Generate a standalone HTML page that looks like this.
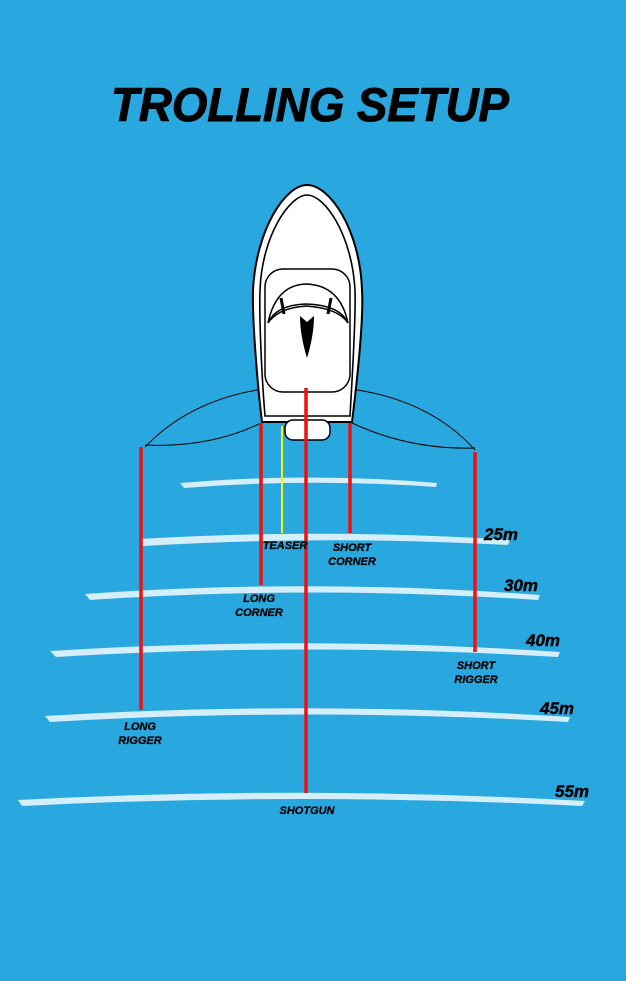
<!DOCTYPE html>
<html><head><meta charset="utf-8"><style>
html,body{margin:0;padding:0;background:#29a8e0;}
svg{display:block}
text{font-family:"Liberation Sans",sans-serif;font-weight:bold;font-style:italic;fill:#000}
</style></head><body>
<svg width="626" height="981" viewBox="0 0 626 981" xmlns="http://www.w3.org/2000/svg">
<rect width="626" height="981" fill="#29a8e0"/>
<text x="310" y="121" text-anchor="middle" font-size="47" textLength="398" lengthAdjust="spacingAndGlyphs" stroke="#000" stroke-width="1">TROLLING SETUP</text>
<g fill="#d4eefb">
<path d="M180,483 Q308,472 437,483 L436,487 Q308,478 184,488 Z"/>
<path d="M140,539 Q325,528 510,540 L508,545 Q325,535 143,546 Z"/>
<path d="M85,594 Q310,578 540,595 L538,600 Q310,585 90,600 Z"/>
<path d="M50,651 Q305,635 560,652 L558,657 Q305,642 56,657 Z"/>
<path d="M45,716 Q305,700 570,717 L568,722 Q305,707 50,722 Z"/>
<path d="M18,800 Q300,785 585,801 L582,806 Q300,792 22,806 Z"/>
</g>
<g fill="none" stroke="#000" stroke-width="1">
<path d="M263,389 Q190,400 145,447"/>
<path d="M261,423 Q210,448 145,445"/>
<path d="M351,389 Q430,400 475,450"/>
<path d="M352,423 Q410,450 475,448"/>
</g>
<path d="M307,185 C285,185 256,230 253,290 C252,320 258,390 262,422 L352,422 C356,390 364,320 362,290 C360,230 330,185 307,185 Z" fill="#fff" stroke="#000" stroke-width="2"/>
<path d="M307,195 C290,195 262,235 260,290 C259,320 262,380 265,416 L350,416 C352,380 356,320 355,290 C352,235 325,195 307,195 Z" fill="none" stroke="#000" stroke-width="1.6"/>
<rect x="265" y="269" width="85" height="123" rx="18" fill="#fff" stroke="#000" stroke-width="1.5"/>
<path d="M268,323 Q276,285 306,284 Q340,285 348,323 Q340,305 306,304 Q276,305 268,323 Z" fill="#fff" stroke="#000" stroke-width="1.5"/>
<path d="M268,323 Q278,308 306,306 Q338,308 348,323" fill="none" stroke="#000" stroke-width="1.5"/>
<path d="M281,298 L284,314 M331,298 L328,314" stroke="#000" stroke-width="3"/>
<path d="M300,316 L307,322 L314,316 Q314,335 307,358 Q300,335 300,316 Z" fill="#000"/>
<rect x="285" y="420" width="45" height="20" rx="8" fill="#fff" stroke="#000" stroke-width="1.5"/>
<line x1="282" y1="426" x2="282" y2="533" stroke="#f6f600" stroke-width="2"/>
<g stroke="#ee1111" stroke-width="3.5">
<line x1="141" y1="447" x2="141" y2="710"/>
<line x1="261" y1="423" x2="261" y2="585"/>
<line x1="306" y1="388" x2="306" y2="793"/>
<line x1="350" y1="423" x2="350" y2="533"/>
<line x1="475" y1="452" x2="475" y2="652"/>
</g>
<g font-size="11" text-anchor="middle" stroke="#000" stroke-width="0.3">
<text x="285" y="549">TEASER</text>
<text x="352" y="551">SHORT</text><text x="352" y="565">CORNER</text>
<text x="259" y="602">LONG</text><text x="259" y="616">CORNER</text>
<text x="476" y="669">SHORT</text><text x="476" y="683">RIGGER</text>
<text x="140" y="730">LONG</text><text x="140" y="744">RIGGER</text>
<text x="307" y="814">SHOTGUN</text>
</g>
<g font-size="17" stroke="#000" stroke-width="0.4">
<text x="484" y="540">25m</text>
<text x="504" y="591">30m</text>
<text x="526" y="646">40m</text>
<text x="540" y="714">45m</text>
<text x="555" y="797">55m</text>
</g>
</svg>
</body></html>
